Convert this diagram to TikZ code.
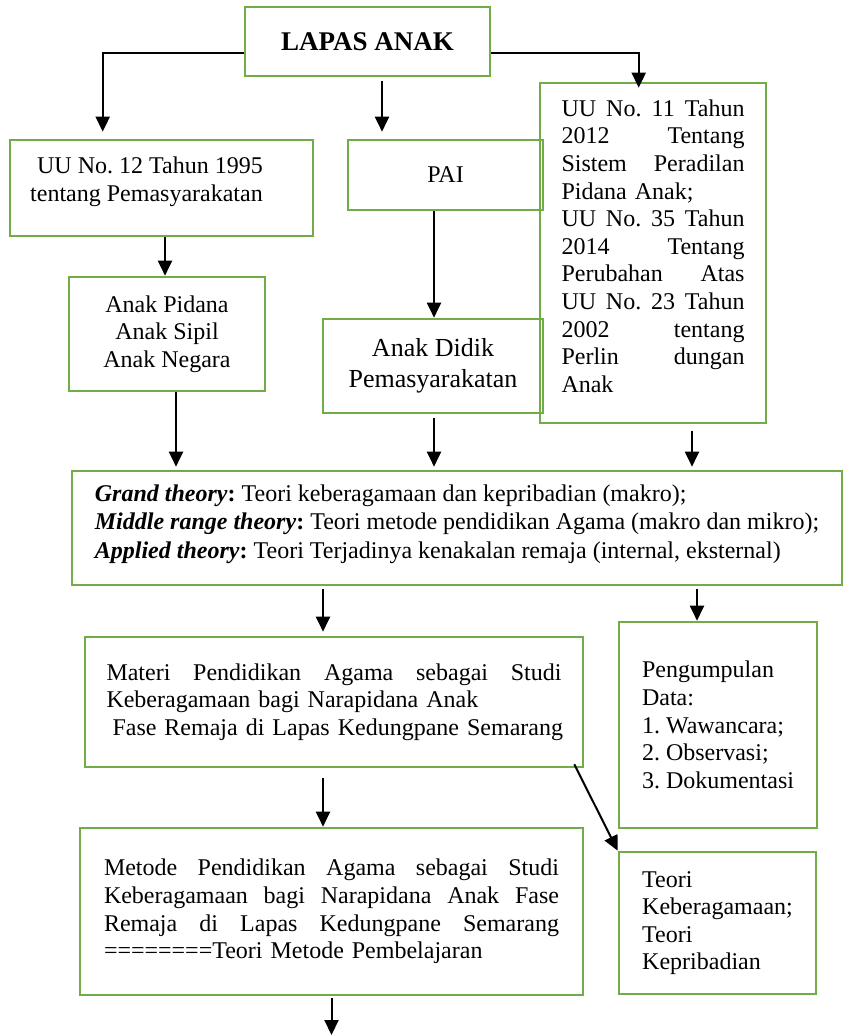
\documentclass[tikz,border=0pt]{standalone}
\usepackage{fontspec}
\setmainfont{Liberation Serif}
\usetikzlibrary{arrows.meta}
\frenchspacing
\begin{document}
\begin{tikzpicture}[x=0.5pt,y=-0.5pt,box/.style={draw=boxgreen,line width=1.3pt,rectangle,inner sep=0pt,font=\fontsize{12}{13.8}\selectfont},arr/.style={line width=1pt,-{Triangle[width=7pt,length=7.5pt]}}]
					\definecolor{boxgreen}{HTML}{70AD47}
					\useasboundingbox (0,0) rectangle (844,1036);
					\node[box,minimum width=122.5pt,minimum height=34.5pt,font=\bfseries\fontsize{13.5}{15}\selectfont] (lapas) at (367.5,41.5) {LAPAS ANAK};
					\node[box,minimum width=151.5pt,minimum height=48pt] (uu12) at (161.5,188) {\raisebox{3pt}[\height][\depth]{\begin{tabular}{@{}r@{}}UU No. 12 Tahun 1995\\tentang Pemasyarakatan\end{tabular}}\hspace*{15pt}};
					\node[box,minimum width=97.5pt,minimum height=35pt] (pai) at (445.5,175) {PAI};
					\node[box,minimum width=98pt,minimum height=57pt,align=center] (pidana) at (167,334) {Anak Pidana\\Anak Sipil\\Anak Negara};
					\node[box,minimum width=110pt,minimum height=47pt,align=center,font=\fontsize{13}{15.5}\selectfont] (didik) at (433,366) {Anak Didik\\Pemasyarakatan};
					\node[box,minimum width=113pt,minimum height=170pt,text width=91.5pt,align=left] (uu11) at (653,253) {UU\hfill No.\hfill 11\hfill Tahun\\2012\hfill Tentang\\Sistem\hfill Peradilan\\Pidana Anak;\\UU\hfill No.\hfill 35\hfill Tahun\\2014\hfill Tentang\\Perubahan\hfill Atas\\UU\hfill No.\hfill 23\hfill Tahun\\2002\hfill tentang\\Perlin\hfill dungan\\Anak\\[-6.8pt]\mbox{}};
					\node[box,minimum width=385pt,minimum height=57pt,align=left,font=\fontsize{12}{14.2}\selectfont] (grand) at (457,528) {\textbf{\textit{Grand theory}:} Teori keberagamaan dan kepribadian (makro);\\\textbf{\textit{Middle range theory}:} Teori metode pendidikan Agama (makro dan mikro);\\\textbf{\textit{Applied theory}:} Teori Terjadinya kenakalan remaja (internal, eksternal)\\[-7.7pt]\mbox{}};
					\node[box,minimum width=249pt,minimum height=65pt,text width=227.5pt,align=left] (materi) at (334,702) {Materi\hfill Pendidikan\hfill Agama\hfill sebagai\hfill Studi\\Keberagamaan bagi Narapidana Anak\\\mbox{\hspace*{3pt}Fase Remaja di Lapas Kedungpane Semarang}};
					\node[box,minimum width=99pt,minimum height=103pt,align=left] (kumpul) at (718,725) {Pengumpulan\\Data:\\1. Wawancara;\\2. Observasi;\\3. Dokumentasi};
					\node[box,minimum width=251.5pt,minimum height=83.5pt,text width=227.5pt,align=left] (metode) at (331.5,911.5) {Metode\hfill Pendidikan\hfill Agama\hfill sebagai\hfill Studi\\Keberagamaan\hfill bagi\hfill Narapidana\hfill Anak\hfill Fase\\Remaja\hfill di\hfill Lapas\hfill Kedungpane\hfill Semarang\\========Teori Metode Pembelajaran};
					\node[box,minimum width=98.5pt,minimum height=71pt,align=left] (teori) at (717.5,923) {Teori\\Keberagamaan;\\Teori\\Kepribadian};
					\coordinate (bawah) at (331.5,1035);
					
					\draw[arr] ([yshift=-5.75pt]lapas.west) -| ([xshift=47pt,yshift=3.5pt]uu12.north west);
					\draw[arr] ([xshift=7.25pt,yshift=-2pt]lapas.south) -- ([xshift=7.25pt,yshift=3.5pt]lapas.south |- pai.north);
					\draw[arr] ([yshift=-5.75pt]lapas.east) -| ([xshift=50pt,yshift=-3pt]uu11.north west);
					\draw[arr] ([xshift=1.75pt]uu12.south) -- ([xshift=1.75pt]uu12.south |- pidana.north);
					\draw[arr] ([xshift=-5.75pt]pai.south) -- ([xshift=-5.75pt]pai.south |- didik.north);
					\draw[arr] ([xshift=4.5pt]pidana.south) -- ([xshift=4.5pt,yshift=1.5pt]pidana.south |- grand.north);
					\draw[arr] ([xshift=0.5pt,yshift=-2pt]didik.south) -- ([xshift=0.5pt,yshift=1.5pt]didik.south |- grand.north);
					\draw[arr] ([xshift=19.5pt,yshift=-3.5pt]uu11.south) -- ([xshift=19.5pt,yshift=1.5pt]uu11.south |- grand.north);
					\draw[arr] ([xshift=-67pt,yshift=-1.5pt]grand.south) -- ([xshift=-67pt,yshift=2pt]grand.south |- materi.north);
					\draw[arr] ([xshift=120pt,yshift=-1.5pt]grand.south) -- ([xshift=120pt]grand.south |- kumpul.north);
					\draw[arr] ([xshift=-5.5pt,yshift=-5pt]materi.south) -- ([xshift=-5.5pt]materi.south |- metode.north);
					\draw[arr] ([xshift=-5pt,yshift=2pt]materi.south east) -- (teori.north west);
					\draw[arr] ([yshift=-1pt]metode.south) -- (bawah);
				\end{tikzpicture}
\end{document}
